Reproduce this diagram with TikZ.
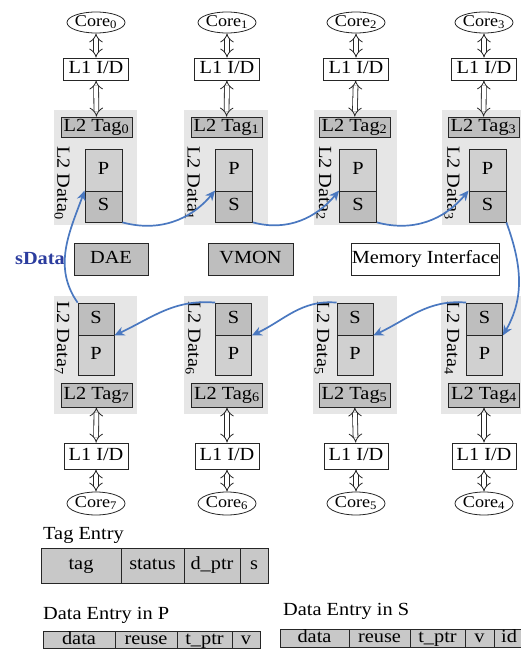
\documentclass[tikz,border=0pt]{standalone}
\usepackage{fontspec}
\setmainfont{Liberation Serif}[FakeStretch=1.1]
\usetikzlibrary{arrows.meta,shapes.geometric}
\definecolor{bggray}{HTML}{E6E6E6}
\definecolor{tagfill}{HTML}{BEBEBE}
\definecolor{pfill}{HTML}{D0D0D0}
\definecolor{sfill}{HTML}{BEBEBE}
\definecolor{cellfill}{HTML}{C8C8C8}
\definecolor{flowblue}{HTML}{4A78C0}
\definecolor{labelblue}{HTML}{2B3C9E}
\begin{document}
\begin{tikzpicture}[x=1pt,y=-1pt,
  font=\fontsize{18.5}{20}\selectfont,
  bx/.style={draw=black!85, line width=0.8pt, inner sep=0pt, text height=12pt, text depth=3.5pt},
  whitebox/.style={bx, fill=white},
  tagbox/.style={bx, fill=tagfill},
  pbox/.style={bx, fill=pfill},
  sbox/.style={bx, fill=sfill},
  cell/.style={bx, fill=cellfill},
  smallcell/.style={cell, text height=11pt, text depth=2.5pt},
  coreshape/.style={ellipse, draw=black!85, line width=0.8pt, inner sep=0pt},
  corelabel/.style={inner sep=0pt, font=\fontsize{16.5}{18}\selectfont},
  dblarrow/.style={double, double distance=4pt, line width=0.8pt, draw=black!85, {Implies[length=5pt,width=13pt]}-{Implies[length=5pt,width=13pt]}},
  flow/.style={draw=flowblue, line width=1.7pt, -{Stealth[length=10pt,width=9pt]}},
]
\useasboundingbox (0,0) rectangle (521,650);

% ---------- top row ----------
\foreach \i/\cx/\gx/\gw/\tx/\px/\dx in {0/96/54/83/96.5/103.5/62,1/227/184/84/226.5/234/192.5,2/356/314/83/354.5/358/324,3/484/442/82/483.5/487.5/452} {
  \fill[bggray] (\gx,110) rectangle ++(\gw,115);
  \node[coreshape, minimum width=58pt, minimum height=21pt] (core\i) at (\cx,22.5) {};
  \node[corelabel] (corelbl\i) at (\cx,22) {Core\textsubscript{\i}};
  \node[whitebox, minimum width=65pt, minimum height=22pt] (l1t\i) at (\cx,69) {L1 I/D};
  \node[tagbox, minimum width=71pt, minimum height=20pt] (tag\i) at (\tx,127) {L2 Tag\textsubscript{\i}};
  \node[pbox, minimum width=37pt, minimum height=42pt] (P\i) at (\px,170) {P};
  \node[sbox, minimum width=37pt, minimum height=31pt] (S\i) at (\px,206.5) {S};
  \node[rotate=-90, inner sep=0pt] (dat\i) at (\dx,183) {L2 Data\textsubscript{\i}};
  \draw[dblarrow] (core\i) -- (l1t\i);
  \draw[dblarrow] (l1t\i) -- (tag\i);
}

% ---------- bottom row ----------
\foreach \i/\cx/\gx/\gw/\tx/\px/\dx in {7/96/54/83/96.5/96/62,6/227/184/84/227/233.5/193,5/356/313/84/354.5/355/322,4/484/441/83/484/484.5/452} {
  \fill[bggray] (\gx,296) rectangle ++(\gw,118);
  \node[sbox, minimum width=36pt, minimum height=32pt] (S\i) at (\px,319) {S};
  \node[pbox, minimum width=36pt, minimum height=40pt] (P\i) at (\px,355) {P};
  \node[tagbox, minimum width=71pt, minimum height=24pt] (tag\i) at (\tx,395) {L2 Tag\textsubscript{\i}};
  \node[whitebox, minimum width=64pt, minimum height=26pt] (l1b\i) at (\cx,456) {L1 I/D};
  \node[coreshape, minimum width=58pt, minimum height=23pt] (core\i) at (\cx,503.5) {};
  \node[corelabel] (corelbl\i) at (\cx,503) {Core\textsubscript{\i}};
  \node[rotate=-90, inner sep=0pt] (dat\i) at (\dx,338) {L2 Data\textsubscript{\i}};
  \draw[dblarrow] (tag\i) -- (l1b\i);
  \draw[dblarrow] (l1b\i) -- (core\i);
}

% ---------- middle row ----------
\node[tagbox, minimum width=74pt, minimum height=32pt] (dae) at (111,259) {DAE};
\node[tagbox, minimum width=85pt, minimum height=32pt] (vmon) at (250.5,259) {VMON};
\node[whitebox, minimum width=147pt, minimum height=32pt] (mem) at (425.5,259) {Memory Interface};
\node[text=labelblue, font=\fontsize{18.5}{20}\selectfont\bfseries, inner sep=0pt] (sdata) at (40,259) {sData};

% ---------- sData flow ----------
\draw[flow] (S0.south east) to[out=-15,in=-130] (S1.north west);
\draw[flow] (S1.south east) to[out=-15,in=-130] (S2.north west);
\draw[flow] (S2.south east) to[out=-15,in=-130] (S3.north west);
\draw[flow] (S3.south east) to[out=-70,in=60] (S4.south east);
\draw[flow] (S4.north west) to[out=175,in=25] (S5.south east);
\draw[flow] (S5.north west) to[out=175,in=25] (S6.south east);
\draw[flow] (S6.north west) to[out=175,in=25] (S7.south east);
\draw[flow] (S7.north west) to[out=125,in=-110] (S0.north west);

% ---------- entry formats ----------
\node[anchor=west, inner sep=0pt] (tagentry) at (43,535) {Tag Entry};
\node[cell, minimum width=80pt, minimum height=35pt] (te1) at (81,565.5) {tag};
\node[cell, minimum width=63pt, minimum height=35pt] (te2) at (152.5,565.5) {status};
\node[cell, minimum width=56pt, minimum height=35pt] (te3) at (212,565.5) {d\_ptr};
\node[cell, minimum width=28pt, minimum height=35pt] (te4) at (254,565.5) {s};

\node[anchor=west, inner sep=0pt] (pentry) at (43,615) {Data Entry in P};
\node[smallcell, minimum width=72pt, minimum height=17pt] (pe1) at (79,640) {data};
\node[smallcell, minimum width=62pt, minimum height=17pt] (pe2) at (146,640) {reuse};
\node[smallcell, minimum width=55pt, minimum height=17pt] (pe3) at (204.5,640) {t\_ptr};
\node[smallcell, minimum width=28pt, minimum height=17pt] (pe4) at (246,640) {v};

\node[anchor=west, inner sep=0pt] (sentry) at (283,611) {Data Entry in S};
\node[smallcell, minimum width=69pt, minimum height=18pt] (se1) at (314.5,638) {data};
\node[smallcell, minimum width=61pt, minimum height=18pt] (se2) at (379.5,638) {reuse};
\node[smallcell, minimum width=55pt, minimum height=18pt] (se3) at (437.5,638) {t\_ptr};
\node[smallcell, minimum width=29pt, minimum height=18pt] (se4) at (479.5,638) {v};
\node[smallcell, minimum width=30pt, minimum height=18pt] (se5) at (509,638) {id};
\end{tikzpicture}
\end{document}
